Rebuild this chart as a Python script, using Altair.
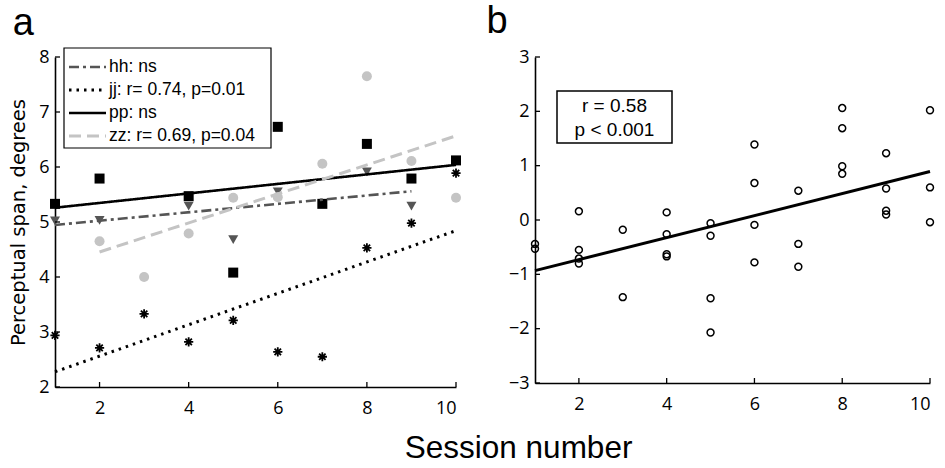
import altair as alt
import pandas as pd

# ---------------- panel a data ----------------
sessions_hh = [1, 2, 4, 5, 6, 8, 9]
span_hh = [5.02, 5.03, 5.29, 4.68, 5.55, 5.91, 5.29]
sessions_jj = [1, 2, 3, 4, 5, 6, 7, 8, 9, 10]
span_jj = [2.94, 2.71, 3.33, 2.82, 3.21, 2.64, 2.55, 4.53, 4.98, 5.89]
sessions_pp = [1, 2, 4, 5, 6, 7, 8, 9, 10]
span_pp = [5.33, 5.79, 5.47, 4.08, 6.73, 5.33, 6.42, 5.79, 6.12]
sessions_zz = [2, 3, 4, 5, 6, 7, 8, 9, 10]
span_zz = [4.65, 4.00, 4.79, 5.44, 5.45, 6.06, 7.65, 6.11, 5.44]

subjects = ["hh", "jj", "pp", "zz"]
legend_labels = ["hh: ns", "jj: r= 0.74, p=0.01", "pp: ns", "zz: r= 0.69, p=0.04"]

a_x_ticks = [2, 4, 6, 8, 10]
a_y_ticks = [2, 3, 4, 5, 6, 7, 8]

# ---------------- panel b data ----------------
b_session = [1, 1,
             2, 2, 2, 2,
             3, 3,
             4, 4, 4, 4,
             5, 5, 5, 5,
             6, 6, 6, 6,
             7, 7, 7,
             8, 8, 8, 8,
             9, 9, 9, 9,
             10, 10, 10]
b_value = [-0.44, -0.53,
           0.16, -0.55, -0.71, -0.80,
           -0.18, -1.42,
           0.14, -0.26, -0.63, -0.67,
           -0.06, -0.29, -1.44, -2.07,
           1.39, 0.68, -0.09, -0.78,
           0.54, -0.44, -0.86,
           2.06, 1.69, 0.99, 0.85,
           1.23, 0.58, 0.17, 0.10,
           2.02, 0.60, -0.04]
b_x_ticks = [2, 4, 6, 8, 10]
b_y_ticks = [-3, -2, -1, 0, 1, 2, 3]
b_stats = ["r = 0.58", "p < 0.001"]

# ---------------- styling ----------------
TXT = "Liberation Sans"
NUM = "Open Sans"
YT = "DejaVu Sans"
colors = {"hh": "#555555", "jj": "#000000", "pp": "#000000", "zz": "#c4c4c4"}
dashes = {"hh": [10, 4, 3, 4], "jj": [2.5, 5], "pp": [1, 0], "zz": [12, 6]}
widths = {"hh": 2.6, "jj": 3, "pp": 2.6, "zz": 3}
ASTERISK = "M-1,0L1,0M0,-1L0,1M-0.7,-0.7L0.7,0.7M-0.7,0.7L0.7,-0.7"

WA, HA = 401, 330
WB, HB = 395, 326

rows = []
for s, xs, ys in [("hh", sessions_hh, span_hh), ("jj", sessions_jj, span_jj),
                  ("pp", sessions_pp, span_pp), ("zz", sessions_zz, span_zz)]:
    for x, y in zip(xs, ys):
        rows.append({"subject": s, "session": x, "span": y})
df_a = pd.DataFrame(rows)

xa = alt.X("session:Q", scale=alt.Scale(domain=[1, 10], nice=False, zero=False),
           axis=alt.Axis(values=a_x_ticks, title=None))
ya = alt.Y("span:Q", scale=alt.Scale(domain=[2, 8], nice=False, zero=False),
           axis=alt.Axis(values=a_y_ticks, title="Perceptual span, degrees", titlePadding=10,
                         titleFont=YT, titleFontSize=19.5))

base_a = alt.Chart(df_a)
pts_hh = base_a.transform_filter("datum.subject == 'hh'").mark_point(
    shape="triangle-down", filled=True, color=colors["hh"], size=100, opacity=1).encode(x=xa, y=ya)
pts_jj = base_a.transform_filter("datum.subject == 'jj'").mark_point(
    shape=ASTERISK, filled=False, color="black", strokeWidth=1.8, size=85, opacity=1).encode(x=xa, y=ya)
pts_pp = base_a.transform_filter("datum.subject == 'pp'").mark_square(
    color="black", size=100, opacity=1).encode(x=xa, y=ya)
pts_zz = base_a.transform_filter("datum.subject == 'zz'").mark_circle(
    color=colors["zz"], size=100, opacity=1).encode(x=xa, y=ya)

fit_layers = []
for s in subjects:
    fit_layers.append(
        base_a.transform_filter(f"datum.subject == '{s}'")
        .transform_regression("session", "span")
        .mark_line(color=colors[s], strokeDash=dashes[s], strokeWidth=widths[s])
        .encode(x=xa, y=ya)
    )

ticks_ax = alt.Chart(pd.DataFrame({"session": a_x_ticks})).mark_rule(
    color="black", strokeWidth=1.3).encode(x=xa, y=alt.value(HA), y2=alt.value(HA - 5))
ticks_ay = alt.Chart(pd.DataFrame({"span": a_y_ticks})).mark_rule(
    color="black", strokeWidth=1.3).encode(y=ya, x=alt.value(0), x2=alt.value(5))

# manual legend
leg_box = alt.Chart(pd.DataFrame({"k": [0]})).mark_rect(
    fill="white", stroke="black", strokeWidth=1.2).encode(
    x=alt.value(9), x2=alt.value(216), y=alt.value(-9), y2=alt.value(91))
leg_layers = [leg_box]
for i, (s, lab) in enumerate(zip(subjects, legend_labels)):
    yy = 10 + 23 * i
    d = pd.DataFrame({"label": [lab]})
    leg_layers.append(alt.Chart(d).mark_rule(
        color=colors[s], strokeDash=dashes[s], strokeWidth=widths[s]).encode(
        x=alt.value(14), x2=alt.value(51), y=alt.value(yy)))
    leg_layers.append(alt.Chart(d).mark_text(
        align="left", baseline="middle", font=TXT, fontSize=17.5, color="black").encode(
        x=alt.value(54), y=alt.value(yy), text="label:N"))

panel_a = alt.layer(pts_hh, pts_jj, pts_pp, pts_zz, *fit_layers, ticks_ax, ticks_ay,
                    *leg_layers).properties(
    width=WA, height=HA,
    title=alt.TitleParams("a", anchor="start", fontSize=38, font=TXT, fontWeight="normal",
                          baseline="alphabetic", offset=-26, dx=4, color="black"))

# ---------------- panel b ----------------
df_b = pd.DataFrame({"session": b_session, "value": b_value})
xb = alt.X("session:Q", scale=alt.Scale(domain=[1, 10], nice=False, zero=False),
           axis=alt.Axis(values=b_x_ticks, title=None))
yb = alt.Y("value:Q", scale=alt.Scale(domain=[-3, 3], nice=False, zero=False),
           axis=alt.Axis(values=b_y_ticks, title=None))

pts_b = alt.Chart(df_b).mark_point(shape="circle", filled=False, color="black",
                                   strokeWidth=1.5, size=48, opacity=1).encode(x=xb, y=yb)
fit_b = alt.Chart(df_b).transform_regression("session", "value").mark_line(
    color="black", strokeWidth=3).encode(x=xb, y=yb)
ticks_bx = alt.Chart(pd.DataFrame({"session": b_x_ticks})).mark_rule(
    color="black", strokeWidth=1.3).encode(x=xb, y=alt.value(HB), y2=alt.value(HB - 5))
ticks_by = alt.Chart(pd.DataFrame({"value": b_y_ticks})).mark_rule(
    color="black", strokeWidth=1.3).encode(y=yb, x=alt.value(0), x2=alt.value(5))
box_b = alt.Chart(pd.DataFrame({"k": [0]})).mark_rect(
    fill="white", stroke="black", strokeWidth=1.5).encode(
    x=alt.value(22), x2=alt.value(137), y=alt.value(34), y2=alt.value(86))
txt_b = [alt.Chart(pd.DataFrame({"t": [t]})).mark_text(
    align="center", baseline="alphabetic", font=TXT, fontSize=19, color="black").encode(
    x=alt.value(79.5), y=alt.value(yy), text="t:N") for t, yy in zip(b_stats, [55, 79])]

panel_b = alt.layer(pts_b, fit_b, ticks_bx, ticks_by, box_b, *txt_b).properties(
    width=WB, height=HB,
    title=alt.TitleParams("b", anchor="start", fontSize=38, font=TXT, fontWeight="normal",
                          baseline="alphabetic", offset=-23, dx=-22, color="black"))

chart = alt.hconcat(panel_a, panel_b, spacing=21).properties(
    padding={"left": 8, "top": 3, "right": 5, "bottom": 5},
    title=alt.TitleParams("Session number", orient="bottom", anchor="middle", fontSize=31.5,
                          font=TXT, fontWeight="normal", color="black", offset=16, dx=46)
).configure_view(stroke=None).configure_axis(
    domainColor="black", domainWidth=1.6, ticks=False, grid=False,
    labelFont=NUM, labelFontSize=18, labelColor="black", labelPadding=6,
    titleFont=NUM, titleFontSize=18, titleFontWeight="normal", titleColor="black"
).configure_axisX(labelPadding=12)

chart.save("out.html", embed_options={"renderer": "svg", "actions": False})
